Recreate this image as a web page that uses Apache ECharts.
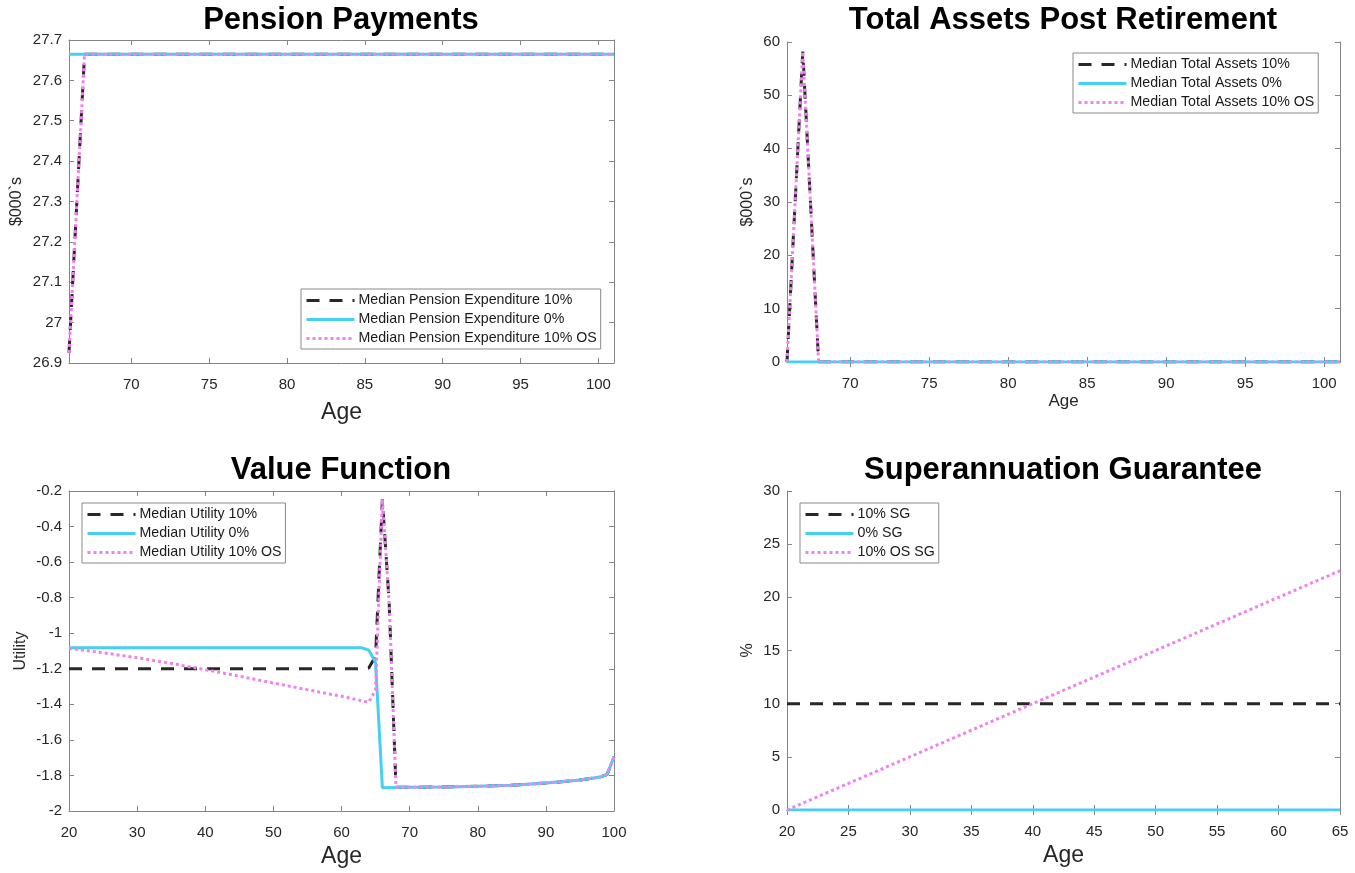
<!DOCTYPE html>
<html>
<head>
<meta charset="utf-8">
<script src="https://cdn.jsdelivr.net/npm/echarts@6/dist/echarts.min.js"></script>
<style>
html,body{margin:0;padding:0;background:#fff;}
#chart{width:1355px;height:873px;}
</style>
</head>
<body>
<div id="chart"></div>
<script>
// ---------- Data ----------
// Pension Payments
const pensionAges = [66, 67, 101];
const pension10 = [26.925, 27.665, 27.665];
const pension0 = [27.665, 27.665, 27.665];
const pension10OS = [26.925, 27.665, 27.665];

// Total Assets Post Retirement
const assetAges = [66, 67, 68, 101];
const assets10 = [0, 58.2, 0, 0];
const assets0 = [0, 0, 0, 0];
const assets10OS = [0, 58.2, 0, 0];

// Value Function
const utilAges10 = [20, 63, 64, 65, 66, 67, 68, 70, 75, 80, 85, 90, 95, 98, 99, 100];
const utility10 = [-1.2, -1.2, -1.195, -1.13, -0.245, -0.83, -1.867, -1.866, -1.865, -1.861, -1.855, -1.843, -1.826, -1.809, -1.794, -1.695];
const utilAges0 = [20, 63, 64, 65, 66, 70, 75, 80, 85, 90, 95, 98, 99, 100];
const utility0 = [-1.082, -1.082, -1.095, -1.165, -1.869, -1.867, -1.865, -1.861, -1.855, -1.843, -1.826, -1.809, -1.794, -1.695];
const utilAgesOS = [20, 25, 30, 35, 40, 45, 50, 55, 60, 63, 64, 65, 66, 67, 68, 70, 75, 80, 85, 90, 95, 98, 99, 100];
const utility10OS = [-1.085, -1.110, -1.138, -1.170, -1.205, -1.242, -1.280, -1.318, -1.355, -1.380, -1.388, -1.32, -0.245, -0.83, -1.867, -1.866, -1.865, -1.861, -1.855, -1.843, -1.826, -1.809, -1.794, -1.695];

// Superannuation Guarantee
const sgAges = [20, 25, 30, 35, 40, 45, 50, 55, 60, 65];
const sg10 = [10, 10, 10, 10, 10, 10, 10, 10, 10, 10];
const sg0 = [0, 0, 0, 0, 0, 0, 0, 0, 0, 0];
const sg10OS = [0, 2.5, 5, 7.5, 10, 12.5, 15, 17.5, 20, 22.5];

// Tick labels
const retireTicks = [70, 75, 80, 85, 90, 95, 100];

// Titles / names
const titles = ['Pension Payments', 'Total Assets Post Retirement', 'Value Function', 'Superannuation Guarantee'];
const names10 = ['Median Pension Expenditure 10%', 'Median Total Assets 10%', 'Median Utility 10%', '10% SG'];
const names0 = ['Median Pension Expenditure 0%', 'Median Total Assets 0%', 'Median Utility 0%', '0% SG'];
const namesOS = ['Median Pension Expenditure 10% OS', 'Median Total Assets 10% OS', 'Median Utility 10% OS', '10% OS SG'];

// ---------- Styles ----------
const FONT = 'Liberation Sans, Arial, Helvetica, sans-serif';
const AXIS_COLOR = '#858585';
const TEXT_COLOR = '#262626';
const C_BLACK = '#2b2628';
const C_CYAN = '#47cff0';
const C_PINK = '#ee82ee';

const grids = [
  { left: 69, top: 40, width: 545, height: 323 },
  { left: 787, top: 42, width: 553, height: 320 },
  { left: 69, top: 491, width: 545, height: 320 },
  { left: 787, top: 491, width: 553, height: 319 }
];

function zip(a, b) { return a.map((v, i) => [v, b[i]]); }

function baseAxis(extra) {
  return Object.assign({
    type: 'value',
    axisLine: { show: true, lineStyle: { color: AXIS_COLOR, width: 1 } },
    axisTick: { show: true, inside: true, length: 5, lineStyle: { color: AXIS_COLOR } },
    splitLine: { show: false },
    axisLabel: { color: TEXT_COLOR, fontSize: 15, fontFamily: FONT }
  }, extra);
}

const xAxes = [];
const yAxes = [];
function addX(g, min, max, interval, custom, name, nameSize, nameGap) {
  const tick = { show: true, inside: true, length: 5, lineStyle: { color: AXIS_COLOR } };
  const lab = { color: TEXT_COLOR, fontSize: 15, fontFamily: FONT, margin: 14 };
  if (custom) { tick.customValues = custom; lab.customValues = custom; }
  xAxes.push(baseAxis({
    gridIndex: g, position: 'bottom', min: min, max: max, interval: interval,
    axisTick: tick, axisLabel: lab,
    name: name, nameLocation: 'middle', nameGap: nameGap,
    nameTextStyle: { fontSize: nameSize, color: TEXT_COLOR, fontFamily: FONT }
  }));
  const tick2 = Object.assign({}, tick);
  xAxes.push(baseAxis({
    gridIndex: g, position: 'top', min: min, max: max, interval: interval,
    axisTick: tick2, axisLabel: { show: false }
  }));
}
function addY(g, min, max, interval, name, nameSize, nameGap) {
  yAxes.push(baseAxis({
    gridIndex: g, position: 'left', min: min, max: max, interval: interval,
    axisLabel: { color: TEXT_COLOR, fontSize: 15, fontFamily: FONT, margin: 7 },
    name: name, nameLocation: 'middle', nameGap: nameGap,
    nameTextStyle: { fontSize: nameSize, color: TEXT_COLOR, fontFamily: FONT }
  }));
  yAxes.push(baseAxis({
    gridIndex: g, position: 'right', min: min, max: max, interval: interval,
    axisLabel: { show: false }
  }));
}

addX(0, 66, 101, 5, retireTicks, 'Age', 23, 38);
addY(0, 26.9, 27.7, 0.1, '$000`s', 16, 44);
addX(1, 66, 101, 5, retireTicks, 'Age', 17, 31);
addY(1, 0, 60, 10, '$000`s', 16, 31);
addX(2, 20, 100, 10, null, 'Age', 23, 34);
addY(2, -2, -0.2, 0.2, 'Utility', 16, 40);
addX(3, 20, 65, 5, null, 'Age', 23, 34);
addY(3, 0, 30, 5, '%', 16, 31);

function mkSeries(g, name, data, kind) {
  const ls = kind === 'dash' ? { color: C_BLACK, width: 3, type: [13, 10] }
           : kind === 'solid' ? { color: C_CYAN, width: 3, type: 'solid' }
           : { color: C_PINK, width: 3, type: [3, 3] };
  return {
    type: 'line', name: name, xAxisIndex: 2 * g, yAxisIndex: 2 * g,
    data: data, symbol: 'none', showSymbol: false, smooth: false,
    lineStyle: ls, itemStyle: { color: ls.color }, z: kind === 'dash' ? 2 : kind === 'solid' ? 3 : 4,
    emphasis: { disabled: true }, animation: false
  };
}

const series = [
  mkSeries(0, names10[0], zip(pensionAges, pension10), 'dash'),
  mkSeries(0, names0[0], zip(pensionAges, pension0), 'solid'),
  mkSeries(0, namesOS[0], zip(pensionAges, pension10OS), 'dot'),
  mkSeries(1, names10[1], zip(assetAges, assets10), 'dash'),
  mkSeries(1, names0[1], zip(assetAges, assets0), 'solid'),
  mkSeries(1, namesOS[1], zip(assetAges, assets10OS), 'dot'),
  mkSeries(2, names10[2], zip(utilAges10, utility10), 'dash'),
  mkSeries(2, names0[2], zip(utilAges0, utility0), 'solid'),
  mkSeries(2, namesOS[2], zip(utilAgesOS, utility10OS), 'dot'),
  mkSeries(3, names10[3], zip(sgAges, sg10), 'dash'),
  mkSeries(3, names0[3], zip(sgAges, sg0), 'solid'),
  mkSeries(3, namesOS[3], zip(sgAges, sg10OS), 'dot')
];

const legendPos = [
  { left: 301, top: 289 },
  { left: 1073, top: 53 },
  { left: 82, top: 503 },
  { left: 800, top: 503 }
];
const legends = legendPos.map((p, i) => ({
  data: [names10[i], names0[i], namesOS[i]],
  orient: 'vertical', left: p.left, top: p.top,
  itemWidth: 48, itemHeight: 12, itemGap: 0,
  padding: [2, 4, 1, 4],
  borderColor: '#8a8a8a', borderWidth: 1, borderRadius: 0,
  backgroundColor: '#ffffff',
  selectedMode: false,
  itemStyle: { color: 'rgba(0,0,0,0)', borderColor: 'rgba(0,0,0,0)', borderWidth: 0, opacity: 0 },
  lineStyle: { width: 3 },
  textStyle: { fontSize: 14.2, fontFamily: FONT, color: '#1a1a1a', lineHeight: 19, padding: [0, 0, 0, -1] }
}));

const titleCenters = [341, 1063, 341, 1063];
const titleTops = [5, 5, 455, 455];
const titleOpts = titles.map((t, i) => ({
  text: t, left: titleCenters[i], top: titleTops[i], textAlign: 'center', padding: 0,
  textStyle: { fontSize: 31, fontWeight: 'bold', fontFamily: FONT, color: '#000' }
}));

const chart = echarts.init(document.getElementById('chart'), null, { renderer: 'canvas' });
chart.setOption({
  animation: false,
  backgroundColor: '#ffffff',
  title: titleOpts,
  grid: grids,
  xAxis: xAxes,
  yAxis: yAxes,
  legend: legends,
  series: series
});
</script>
</body>
</html>
